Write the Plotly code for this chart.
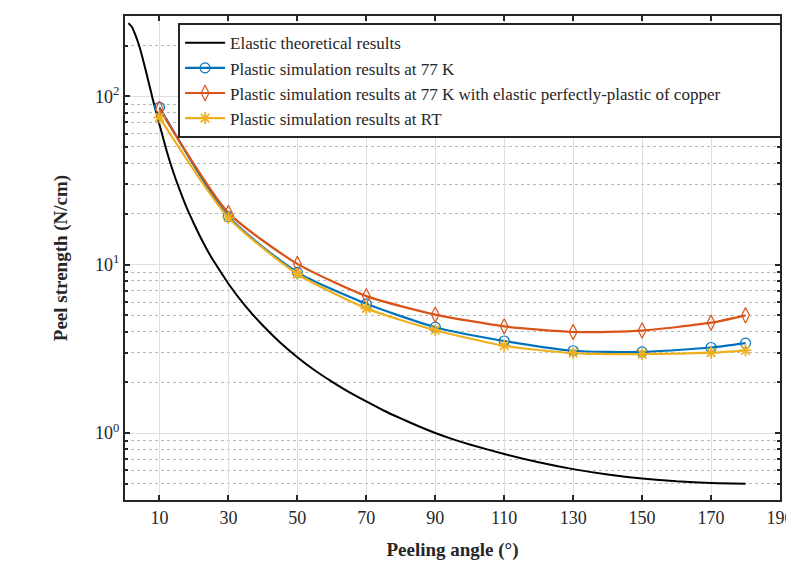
import plotly.graph_objects as go

# Peeling angle (degrees) for the simulation results
angles_sim = [10, 30, 50, 70, 90, 110, 130, 150, 170, 180]

# Plastic simulation results at 77 K (N/cm)
sim_77k = [86, 19.3, 9.0, 5.85, 4.25, 3.52, 3.08, 3.03, 3.22, 3.42]
# Plastic simulation results at 77 K, elastic perfectly-plastic copper (N/cm)
sim_77k_epp = [84, 20.3, 10.1, 6.5, 5.05, 4.3, 3.98, 4.06, 4.52, 5.0]
# Plastic simulation results at room temperature (N/cm)
sim_rt = [75, 19.0, 8.8, 5.5, 4.08, 3.3, 2.98, 2.94, 3.0, 3.1]

# Elastic theoretical peel strength curve
angles_theory = [1, 2, 3, 4, 5, 6, 7, 8, 9, 10, 12, 14, 16, 18, 20, 22, 25, 28, 30,
                 35, 40, 45, 50, 55, 60, 65, 70, 75, 80, 85, 90, 95, 100, 110, 120,
                 130, 140, 150, 160, 170, 180]
elastic_theory = [272, 258, 232, 203, 172, 143, 118, 97, 81, 68, 48, 35.5, 27.3, 21.5,
                  17.5, 14.4, 11.1, 8.9, 7.7, 5.65, 4.35, 3.45, 2.82, 2.36, 2.02, 1.75,
                  1.54, 1.36, 1.22, 1.10, 1.0, 0.92, 0.855, 0.75, 0.67, 0.61, 0.567,
                  0.536, 0.516, 0.504, 0.50]

x_ticks = [10, 30, 50, 70, 90, 110, 130, 150, 170, 190]
y_ticks = [1, 10, 100]
y_tick_text = ["10<sup>0</sup>", "10<sup>1</sup>", "10<sup>2</sup>"]
y_minor = [0.5, 0.6, 0.7, 0.8, 0.9, 2, 3, 4, 5, 6, 7, 8, 9,
           20, 30, 40, 50, 60, 70, 80, 90, 200]

BLUE = "#0072BD"
ORANGE = "#D95319"
YELLOW = "#EDB120"
INK = "#262626"
FONT = "Liberation Serif"

fig = go.Figure()

fig.add_trace(go.Scatter(
    x=angles_theory, y=elastic_theory, mode="lines",
    line=dict(color="#000000", width=2, shape="spline", smoothing=0.5),
    name="Elastic theoretical results"))

fig.add_trace(go.Scatter(
    x=angles_sim, y=sim_77k, mode="lines+markers",
    line=dict(color=BLUE, width=2.2, shape="spline", smoothing=0.6),
    marker=dict(symbol="circle-open", size=10, color=BLUE, line=dict(width=1.2)),
    name="Plastic simulation results at 77 K"))

fig.add_trace(go.Scatter(
    x=angles_sim, y=sim_77k_epp, mode="lines+markers",
    line=dict(color=ORANGE, width=2.2, shape="spline", smoothing=0.6),
    marker=dict(symbol="diamond-tall-open", size=11, color=ORANGE, line=dict(width=1.2)),
    name="Plastic simulation results at 77 K with elastic perfectly-plastic of copper"))

fig.add_trace(go.Scatter(
    x=angles_sim, y=sim_rt, mode="lines+markers",
    line=dict(color=YELLOW, width=2.2, shape="spline", smoothing=0.6),
    marker=dict(symbol="asterisk-open", size=10, color=YELLOW, line=dict(width=1.8, color=YELLOW)),
    name="Plastic simulation results at RT"))

axis_common = dict(
    showline=True, linecolor=INK, linewidth=2, mirror="ticks",
    ticks="inside", ticklen=5, tickwidth=1.5, tickcolor=INK,
    showgrid=True, gridcolor="#dedede", gridwidth=1.2, zeroline=False,
    tickfont=dict(family=FONT, size=18, color=INK),
    ticklabeloverflow="allow", automargin=False,
)

fig.update_xaxes(
    range=[0, 190], tickmode="array", tickvals=x_ticks,
    title=dict(text="<b>Peeling angle (°)</b>", font=dict(family=FONT, size=19, color=INK),
               standoff=16),
    **axis_common)

fig.update_yaxes(
    type="log", range=[-0.398, 2.477], tickmode="array",
    tickvals=y_ticks, ticktext=y_tick_text,
    minor=dict(tickmode="array", tickvals=y_minor, showgrid=True, griddash="dot",
               gridcolor="#b8b8b8", gridwidth=1, ticks="inside", ticklen=3,
               tickcolor=INK),
    title=dict(text="<b>Peel strength (N/cm)</b>", font=dict(family=FONT, size=19, color=INK),
               standoff=22),
    **axis_common)

fig.update_layout(
    width=786, height=568,
    margin=dict(l=125, r=6, t=16, b=68, autoexpand=False),
    paper_bgcolor="white", plot_bgcolor="white",
    legend=dict(
        x=0.081, y=0.985, xanchor="left", yanchor="top",
        orientation="h", entrywidth=545, entrywidthmode="pixels",
        bgcolor="white", bordercolor=INK, borderwidth=2,
        font=dict(family=FONT, size=17, color=INK),
        tracegroupgap=0, itemwidth=40),
    showlegend=True,
)

fig.write_html("out.html")
